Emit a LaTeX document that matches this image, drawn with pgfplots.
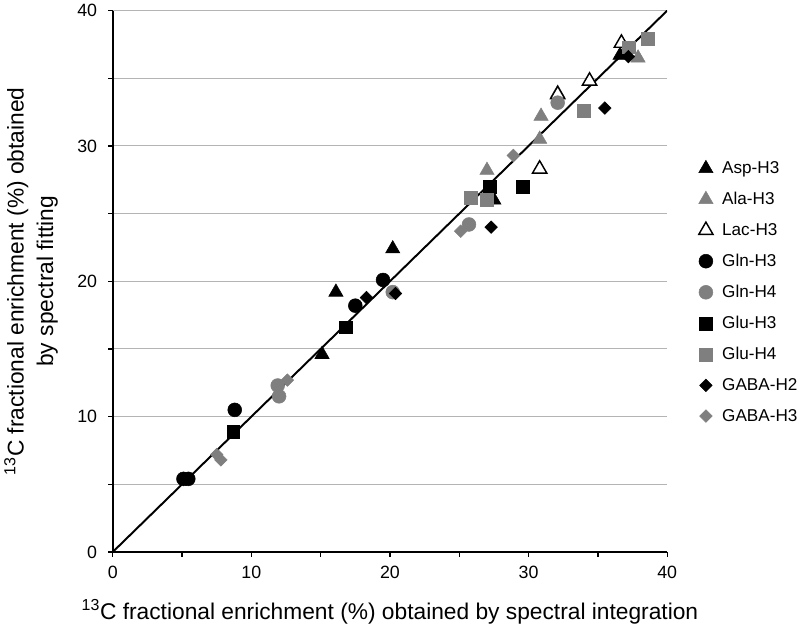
\documentclass[border=0pt]{standalone}
\usepackage{fontspec}
\setmainfont{Liberation Sans}
\usepackage{pgfplots}
\pgfplotsset{compat=1.18}
\definecolor{mgray}{HTML}{7F7F7F}
\definecolor{gridgray}{HTML}{B4B4B4}

\begin{document}
\begin{tikzpicture}
\begin{axis}[
    scale only axis, width=424pt, height=414pt,
    xmin=0, xmax=40, ymin=0, ymax=40,
    axis x line*=bottom, axis y line*=left,
    axis line style={-, line width=1.2pt},
    xtick={0,5,...,40}, xticklabels={0,,10,,20,,30,,40},
    ytick={0,5,...,40}, yticklabels={0,,10,,20,,30,,40},
    tick align=outside, major tick length=3.5pt,
    tick style={black, line width=1pt},
    ymajorgrids, grid style={gridgray, line width=0.8pt},
    /pgf/number format/assume math mode=true,
    ticklabel style={font=\fontsize{13.6}{16}\selectfont},
    xticklabel style={yshift=-4pt},
    yticklabel style={xshift=-5pt},
    xlabel={\textsuperscript{13}C fractional enrichment (\%) obtained by spectral integration},
    ylabel={\textsuperscript{13}C fractional enrichment (\%) obtained\\by spectral fitting},
    label style={font=\fontsize{17.4}{22.5}\selectfont},
    xlabel style={yshift=-9pt},
    ylabel style={align=center, yshift=8pt},
    legend style={at={(1.057,0.726)}, anchor=north west, draw=none,
        inner sep=0pt, outer sep=0pt,
        font=\fontsize{13.1}{15}\selectfont, row sep=8.8pt, column sep=5pt,
        legend cell align=left},
]
% identity line
\addplot[black, line width=1.5pt, forget plot] coordinates {(0,0)(40,40)};

% Asp-H3
\addplot[only marks, mark=triangle*, mark size=6.3pt, black] coordinates {
    (15.1,14.6)(16.1,19.2)(20.2,22.4)(27.5,26.0)(36.6,36.7)};
% Ala-H3
\addplot[only marks, mark=triangle*, mark size=6.3pt, mgray, mark options={fill=mgray}] coordinates {
    (27.0,28.2)(30.8,30.5)(30.9,32.2)(32.1,33.9)(37.9,36.5)};
% Lac-H3
\addplot[only marks, mark=triangle*, mark size=6.3pt, black,
    mark options={fill=white, line width=1.1pt}] coordinates {
    (30.8,28.3)(32.1,33.8)(34.4,34.8)(36.7,37.6)};
% Gln-H3
\addplot[only marks, mark=*, mark size=5.3pt, black] coordinates {
    (5.1,5.4)(5.45,5.4)(8.8,10.5)(17.5,18.2)(19.5,20.1)};
% Gln-H4
\addplot[only marks, mark=*, mark size=5.3pt, mgray, mark options={fill=mgray}] coordinates {
    (11.9,12.3)(12.0,11.5)(20.2,19.2)(25.7,24.2)(32.1,33.2)};
% Glu-H3
\addplot[only marks, mark=square*, mark size=4.9pt, black] coordinates {
    (8.7,8.9)(16.8,16.6)(27.2,27.0)(29.6,27.0)};
% Glu-H4
\addplot[only marks, mark=square*, mark size=4.9pt, mgray, mark options={fill=mgray}] coordinates {
    (25.8,26.2)(27.0,26.0)(34.0,32.6)(37.2,37.3)(38.6,37.9)};
% GABA-H2
\addplot[only marks, mark=square*, mark size=3.4pt, black, mark options={rotate=45}] coordinates {
    (18.3,18.8)(20.4,19.1)(27.3,24.0)(35.5,32.8)(37.2,36.6)};
% GABA-H3
\addplot[only marks, mark=square*, mark size=3.4pt, mgray, mark options={rotate=45, fill=mgray}] coordinates {
    (7.5,7.2)(7.8,6.8)(12.6,12.7)(25.1,23.7)(28.9,29.3)};

\legend{Asp-H3, Ala-H3, Lac-H3, Gln-H3, Gln-H4, Glu-H3, Glu-H4, GABA-H2, GABA-H3}
\end{axis}
\end{tikzpicture}
\end{document}
